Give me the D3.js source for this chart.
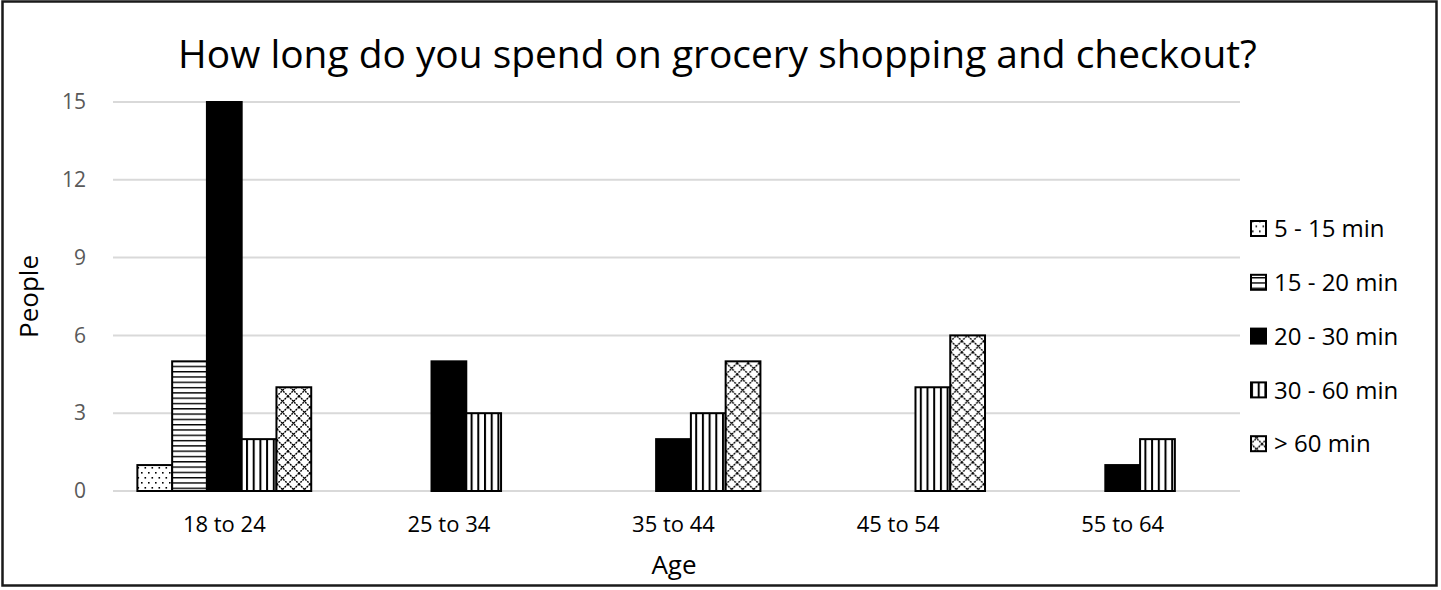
<!DOCTYPE html>
<html>
<head>
<meta charset="utf-8">
<script src="https://cdn.jsdelivr.net/npm/d3@7"></script>
<style>
  html, body { margin: 0; padding: 0; background: #fff; }
  svg { display: block; }
  text { font-family: "Open Sans", "Noto Sans", sans-serif; }
</style>
</head>
<body>
<svg id="chart" width="1441" height="590"></svg>
<script>
// ---- data ----
const title = "How long do you spend on grocery shopping and checkout?";
const categories = ["18 to 24", "25 to 34", "35 to 44", "45 to 54", "55 to 64"];
const seriesNames = ["5 - 15 min", "15 - 20 min", "20 - 30 min", "30 - 60 min", "> 60 min"];
const s5to15   = [1, 0, 0, 0, 0];
const s15to20  = [5, 0, 0, 0, 0];
const s20to30  = [15, 5, 2, 0, 1];
const s30to60  = [2, 3, 3, 4, 2];
const sOver60  = [4, 0, 5, 6, 0];
const yTicks = [0, 3, 6, 9, 12, 15];
const yTitle = "People";
const xTitle = "Age";

const seriesValues = [s5to15, s15to20, s20to30, s30to60, sOver60];
const patternIds = ["pDots", "pHoriz", "pSolid", "pVert", "pCross"];

const svg = d3.select("#chart");
const plot = { left: 112, right: 1235, top: 102, bottom: 491 };

// ---- patterns ----
const defs = svg.append("defs");
// dots
let p = defs.append("pattern").attr("id", "pDots").attr("patternUnits", "userSpaceOnUse")
  .attr("width", 7).attr("height", 10);
p.append("rect").attr("width", 7).attr("height", 10).attr("fill", "#fff");
p.append("rect").attr("x", 1).attr("y", 2).attr("width", 1.6).attr("height", 1.6).attr("fill", "#000");
p.append("rect").attr("x", 4.5).attr("y", 7).attr("width", 1.6).attr("height", 1.6).attr("fill", "#000");
// horizontal lines
p = defs.append("pattern").attr("id", "pHoriz").attr("patternUnits", "userSpaceOnUse")
  .attr("width", 8).attr("height", 5.3);
p.append("rect").attr("width", 8).attr("height", 5.3).attr("fill", "#fff");
p.append("rect").attr("x", 0).attr("y", 0).attr("width", 8).attr("height", 1.4).attr("fill", "#000");
// solid
p = defs.append("pattern").attr("id", "pSolid").attr("patternUnits", "userSpaceOnUse")
  .attr("width", 4).attr("height", 4);
p.append("rect").attr("width", 4).attr("height", 4).attr("fill", "#000");
// vertical lines
p = defs.append("pattern").attr("id", "pVert").attr("patternUnits", "userSpaceOnUse")
  .attr("width", 6.7).attr("height", 8);
p.append("rect").attr("width", 6.7).attr("height", 8).attr("fill", "#fff");
p.append("rect").attr("x", 0).attr("y", 0).attr("width", 2).attr("height", 8).attr("fill", "#000");
// crosshatch (dotted diagonals forming diamonds)
p = defs.append("pattern").attr("id", "pCross").attr("patternUnits", "userSpaceOnUse")
  .attr("width", 11).attr("height", 11);
p.append("rect").attr("width", 11).attr("height", 11).attr("fill", "#fff");
p.append("path").attr("d", "M0,0 L11,11 M11,0 L0,11 M-1,10 L1,12 M10,-1 L12,1")
  .attr("stroke", "#000").attr("stroke-width", 1.4).attr("stroke-dasharray", "2,0.9").attr("fill", "none");

// ---- frame ----
svg.append("rect").attr("x", 2.5).attr("y", 1.5).attr("width", 1434).attr("height", 584)
  .attr("fill", "#fff").attr("stroke", "#1a1a1a").attr("stroke-width", 2.5);

// ---- scales ----
const x0 = d3.scaleBand().domain(categories).range([plot.left, plot.right]).padding(0);
const x1 = d3.scaleBand().domain(seriesNames).range([0, x0.bandwidth()]).paddingInner(0).paddingOuter(0.73);
const y = d3.scaleLinear().domain([0, 15]).range([plot.bottom, plot.top]);

// ---- gridlines ----
svg.append("g").selectAll("line").data(yTicks).join("line")
  .attr("x1", plot.left + 1).attr("x2", plot.right + 5)
  .attr("y1", d => y(d)).attr("y2", d => y(d))
  .attr("stroke", "#d9d9d9").attr("stroke-width", 2);

// ---- y axis ----
const yAxis = d3.axisLeft(y).tickValues(yTicks).tickSize(0).tickPadding(0);
const gy = svg.append("g").attr("transform", `translate(${86},0)`).call(yAxis);
gy.select(".domain").remove();
gy.selectAll("text").attr("font-size", 21).attr("fill", "#595959")
  .attr("font-family", '"Open Sans", sans-serif');

// ---- x axis ----
const xAxis = d3.axisBottom(x0).tickSize(0).tickPadding(0);
const gx = svg.append("g").attr("transform", `translate(0,${plot.bottom})`).call(xAxis);
gx.select(".domain").remove();
gx.selectAll("text").attr("font-size", 22).attr("fill", "#000").attr("dy", null).attr("y", 41)
  .attr("font-family", '"Open Sans", sans-serif');

// ---- bars ----
const groups = svg.append("g").selectAll("g").data(categories).join("g")
  .attr("transform", d => `translate(${x0(d)},0)`);
groups.selectAll("rect")
  .data((c, ci) => seriesNames.map((s, si) => ({ s, si, v: seriesValues[si][ci] })).filter(d => d.v > 0))
  .join("rect")
  .attr("x", d => x1(d.s))
  .attr("y", d => y(d.v))
  .attr("width", x1.bandwidth())
  .attr("height", d => y(0) - y(d.v))
  .attr("fill", d => `url(#${patternIds[d.si]})`)
  .attr("stroke", "#000").attr("stroke-width", 2);

// ---- titles ----
const t = svg.append("text").attr("x", 717.5).attr("y", 68).attr("text-anchor", "middle")
  .attr("font-size", 34).attr("fill", "#000").text(title);
const tw = t.node().getComputedTextLength();
t.attr("font-size", 34 * 1079 / tw);

svg.append("text").attr("transform", `translate(38,${(plot.top + plot.bottom) / 2}) rotate(-90)`)
  .attr("text-anchor", "middle").attr("font-size", 26).attr("fill", "#000").text(yTitle);
svg.append("text").attr("x", 674).attr("y", 574).attr("text-anchor", "middle")
  .attr("font-size", 26).attr("fill", "#000").text(xTitle);

// ---- legend ----
const legend = svg.append("g").selectAll("g").data(seriesNames).join("g")
  .attr("transform", (d, i) => `translate(1251,${228.5 + i * 53.8})`);
legend.append("rect").attr("x", 0).attr("y", -7.5).attr("width", 15).attr("height", 15)
  .attr("fill", (d, i) => `url(#${patternIds[i]})`).attr("stroke", "#000").attr("stroke-width", 2);
legend.append("text").attr("x", 23).attr("y", 0).attr("dy", "0.36em")
  .attr("font-size", 24).attr("fill", "#000").text(d => d);
</script>
</body>
</html>
